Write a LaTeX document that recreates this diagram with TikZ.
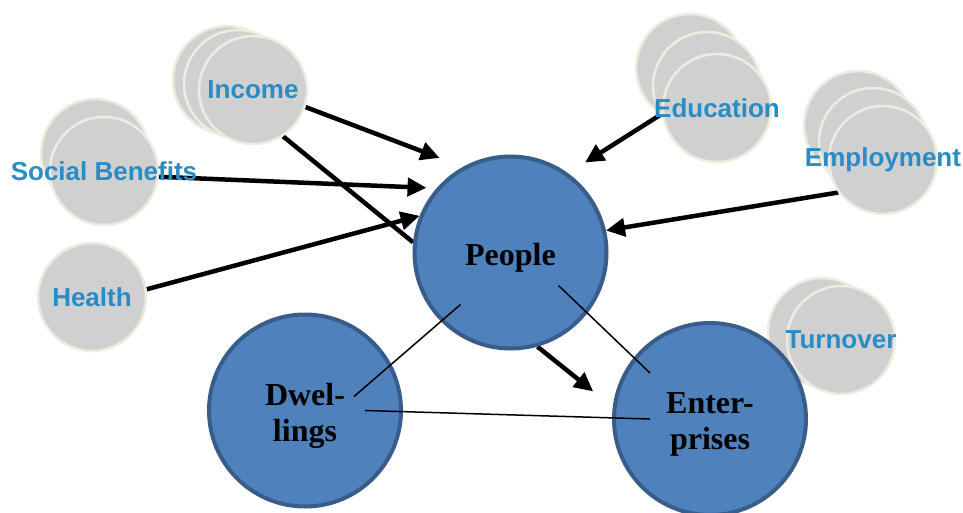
\documentclass[tikz,border=0pt]{standalone}
\usepackage{fontspec}
\setmainfont{Liberation Serif}
\newfontfamily\labelfont{Liberation Sans}
\usepackage{tikz}
\usetikzlibrary{arrows.meta, backgrounds}
\definecolor{CoreBlue}{HTML}{4F81BD}
\definecolor{CoreEdge}{HTML}{385D8A}
\definecolor{SatGray}{HTML}{D0D0D0}
\definecolor{SatEdge}{HTML}{EEECE1}
\definecolor{SatText}{HTML}{2A8CC4}

\begin{document}
\begin{tikzpicture}[x=1pt, y=-1pt,
			core/.style={circle, draw=CoreEdge, fill=CoreBlue, line width=4pt, minimum size=192pt, inner sep=0pt},
			coretext/.style={font=\fontsize{32}{36}\selectfont\bfseries, align=center, yshift=-5pt},
			sat/.style={circle, draw=SatEdge, fill=SatGray, line width=2.5pt, minimum size=108pt, inner sep=0pt},
			sattext/.style={font=\labelfont\fontsize{26}{30}\selectfont\bfseries, text=SatText},
			feed/.style={-{Triangle[length=19pt, width=18pt]}, line width=4.5pt},
			link/.style={line width=1.5pt}
			]
			\useasboundingbox (0,0) rectangle (963,512);
			
			% Satellite circles
			\node (income-a) [sat] at (227,80) {};
			\node (income-b) [sat] at (238,84) {};
			\node (income) [sat, label={[sattext]center:Income}] at (253,90) {};
			\node (social-a) [sat] at (95,153) {};
			\node (social) [sat, label={[sattext]center:Social Benefits}] at (104,171) {};
			\node (health) [sat, label={[sattext]center:Health}] at (92,297) {};
			\node (edu-a) [sat] at (690,68) {};
			\node (edu-b) [sat] at (707,86) {};
			\node (edu) [sat, label={[sattext]center:Education}] at (717,108) {};
			\node (employ-a) [sat] at (858,125) {};
			\node (employ-b) [sat] at (873,142) {};
			\node (employ) [sat, label={[sattext]center:Employment}] at (883,160) {};
			\node (turn-a) [sat] at (822,332) {};
			\node (turn) [sat, label={[sattext]center:Turnover}] at (841,340) {};
			
			% Core circles
			\node (people) [core, label={[coretext]center:People}] at (510.5,252.5) {};
			\node (dwell) [core, label={[coretext]center:Dwel-\\lings}] at (305,410.5) {};
			\node (enter) [core, label={[coretext]center:Enter-\\prises}] at (710,419) {};
			
			% Arrows
			\begin{scope}[on background layer]
				\draw[feed, shorten >=25pt] (income.-18) -- (people.119);
				\draw[feed, shorten >=10pt] (social.-6) -- (people.139);
				\draw[line width=4.5pt] (income.-57) -- (people.174);
				\draw[feed] (health.8) -- (people.158);
				\draw[feed, shorten <=-6pt, shorten >=20pt] (edu.186) -- (people.54);
				\draw[feed] (employ.216) -- (people.13);
				\draw[feed, shorten >=25pt] (people.-74) -- (enter.173);
			\end{scope}
			
			% Links
			\draw[link] ([shift={(-50,52)}]people.center) -- ([shift={(49,-14)}]dwell.center);
			\draw[link] ([shift={(60,0)}]dwell.center) -- ([shift={(-60,0)}]enter.center);
			\draw[link] ([shift={(48,33)}]people.center) -- ([shift={(-60,-46)}]enter.center);
			
		\end{tikzpicture}
\end{document}
